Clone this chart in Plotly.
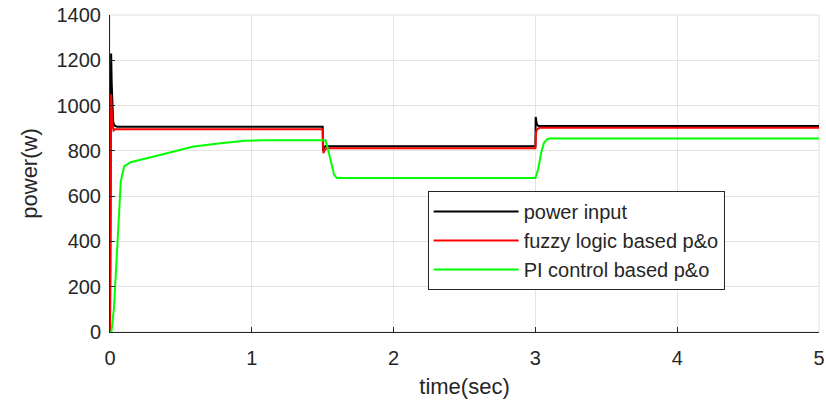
import plotly.graph_objects as go

# time (s) and power (W) samples
t_input = [0, 0.004, 0.008, 0.012, 0.016, 0.022, 0.03, 0.05, 1.5, 1.502, 1.51, 1.52, 3.0, 3.002, 3.01, 3.02, 5.0]
p_input = [0, 700, 1230, 1100, 960, 930, 912, 907, 907, 800, 815, 820, 820, 950, 918, 910, 910]

t_fuzzy = [0, 0.004, 0.008, 0.012, 0.018, 0.025, 0.035, 0.05, 1.5, 1.505, 1.515, 1.53, 3.0, 3.005, 3.015, 3.03, 5.0]
p_fuzzy = [0, 500, 1050, 980, 915, 890, 895, 895, 895, 790, 805, 812, 812, 885, 897, 902, 902]

t_pi = [0, 0.01, 0.028, 0.047, 0.064, 0.076, 0.1, 0.146, 0.31, 0.45, 0.59, 0.78, 0.95, 1.09, 1.52, 1.54, 1.56, 1.58, 1.6,
        3.0, 3.02, 3.04, 3.06, 3.08, 3.1, 5.0]
p_pi = [0, 0, 106, 312, 518, 665, 731, 750, 775, 797, 819, 834, 845, 847, 847, 800, 740, 695, 680,
        680, 720, 790, 835, 850, 855, 855]

x_ticks = [0, 1, 2, 3, 4, 5]
y_ticks = [0, 200, 400, 600, 800, 1000, 1200, 1400]

FONT = "Liberation Sans, Arial, Helvetica"
TXT = "#262626"

fig = go.Figure()
fig.add_trace(go.Scatter(x=t_input, y=p_input, mode="lines", name="power input",
                         line=dict(color="#000000", width=2)))
fig.add_trace(go.Scatter(x=t_fuzzy, y=p_fuzzy, mode="lines", name="fuzzy logic based p&o",
                         line=dict(color="#ff0000", width=2)))
fig.add_trace(go.Scatter(x=t_pi, y=p_pi, mode="lines", name="PI control based p&o",
                         line=dict(color="#00ff00", width=2)))

axis_common = dict(showgrid=True, gridcolor="#e3e3e3", gridwidth=1, zeroline=False,
                   showline=True, linecolor=TXT, linewidth=1, mirror=False,
                   ticks="inside", ticklen=5, tickcolor=TXT, automargin=False,
                   tickfont=dict(family=FONT, size=20, color=TXT))

# light-grey box on top/right, like the reference
fig.add_shape(type="rect", xref="paper", yref="paper", x0=0, y0=0, x1=1, y1=1,
              line=dict(color="#e0e0e0", width=1), layer="below")

fig.update_layout(
    width=826, height=410,
    margin=dict(l=110, r=7, t=15, b=78),
    paper_bgcolor="white", plot_bgcolor="white",
    xaxis=dict(range=[0, 5], tickvals=x_ticks, ticklabelstandoff=8,
               title=dict(text="time(sec)", font=dict(family=FONT, size=22, color=TXT), standoff=10),
               **axis_common),
    yaxis=dict(range=[0, 1400], tickvals=y_ticks, ticklabelstandoff=4,
               title=dict(text="power(w)", font=dict(family=FONT, size=22, color=TXT), standoff=12),
               **axis_common),
    legend=dict(x=0.448, y=0.445, xanchor="left", yanchor="top",
                bgcolor="white", bordercolor=TXT, borderwidth=1,
                font=dict(family=FONT, size=20, color=TXT),
                tracegroupgap=0, itemwidth=85),
    showlegend=True,
)

fig.write_html("out.html")
